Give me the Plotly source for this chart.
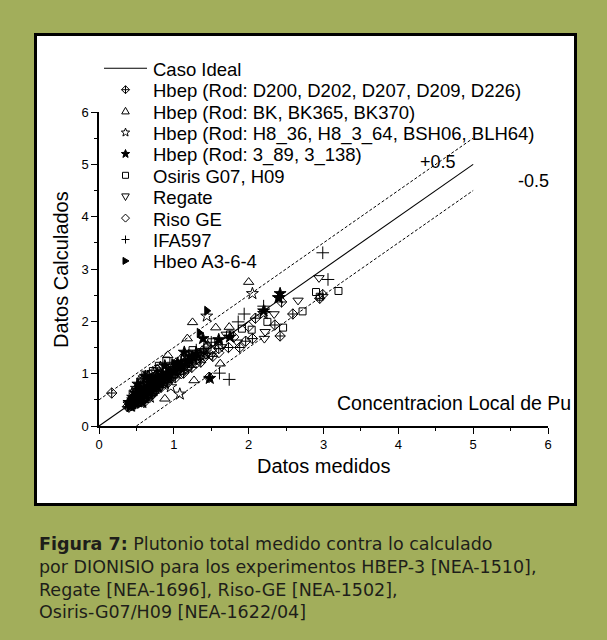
import math
import plotly.graph_objects as go

# ---------------- data ----------------
ideal_x = [0, 5]
ideal_y = [0, 5]
upper_x = [0, 5]
upper_y = [0.5, 5.5]
lower_x = [0.5, 5]
lower_y = [0, 4.5]

d200_x = [0.17, 0.38, 0.40, 0.42, 0.43, 0.45, 0.47, 0.48, 0.50, 0.52, 0.55, 0.55, 0.57, 0.58, 0.60, 0.62, 0.63,
          0.65, 0.66, 0.68, 0.70, 0.70, 0.72, 0.74, 0.75, 0.77, 0.78, 0.83, 0.85, 0.86, 0.88, 0.92, 0.95, 0.97,
          1.02, 1.05, 1.08, 1.13, 1.15, 1.18, 1.24, 1.30, 1.36, 1.43, 1.47, 1.52, 1.60, 1.73, 1.88, 1.96, 2.05,
          2.09, 2.35, 2.42, 2.44, 2.59, 2.95, 2.99]
d200_y = [0.63, 0.37, 0.36, 0.44, 0.39, 0.40, 0.43, 0.52, 0.46, 0.47, 0.56, 0.75, 0.60, 0.50, 0.45, 0.64, 0.55,
          0.85, 0.58, 0.68, 0.72, 0.58, 0.62, 0.66, 0.95, 0.75, 0.80, 0.74, 1.05, 0.82, 0.90, 0.83, 0.92, 0.98,
          0.92, 1.05, 1.10, 1.01, 1.15, 1.20, 1.12, 1.27, 1.22, 1.38, 0.93, 1.33, 1.48, 1.50, 1.50, 1.62, 1.67,
          2.06, 1.93, 1.72, 2.37, 2.14, 2.44, 2.51]

bk_x = [0.44, 0.47, 0.48, 0.50, 0.52, 0.55, 0.58, 0.58, 0.60, 0.62, 0.63, 0.65, 0.68, 0.68, 0.70, 0.72, 0.75, 0.78,
        0.78, 0.80, 0.83, 0.85, 0.88, 0.92, 0.95, 0.98, 1.03, 1.05, 1.10, 1.15, 1.18, 1.25, 1.27, 1.38, 1.45, 1.56,
        1.62, 1.74, 2.00]
bk_y = [0.55, 0.48, 0.70, 0.62, 0.50, 0.72, 0.65, 0.88, 0.80, 0.50, 0.70, 0.60, 0.82, 1.00, 0.90, 0.78, 0.97, 0.88,
        1.10, 1.05, 0.95, 0.82, 0.52, 1.35, 1.05, 1.12, 1.22, 1.10, 1.30, 1.25, 1.67, 1.98, 0.87, 1.45, 1.55, 1.88,
        1.19, 1.89, 2.75]

h8_x = [0.40, 0.43, 0.45, 0.47, 0.50, 0.50, 0.52, 0.53, 0.55, 0.58, 0.60, 0.60, 0.62, 0.65, 0.67, 0.68, 0.70, 0.72,
        0.73, 0.75, 0.78, 0.80, 0.82, 0.85, 0.88, 0.90, 0.93, 0.96, 1.00, 1.05, 1.08, 1.10, 1.15, 1.20, 1.25, 1.30,
        1.35, 1.44, 2.05, 2.20, 2.40]
h8_y = [0.42, 0.38, 0.50, 0.44, 0.55, 0.72, 0.46, 0.58, 0.65, 0.52, 0.70, 0.92, 0.60, 0.62, 0.72, 0.55, 0.75, 1.02,
        0.68, 0.80, 0.90, 0.85, 1.12, 0.90, 0.82, 1.00, 0.95, 0.75, 1.10, 1.05, 0.61, 1.20, 1.12, 1.30, 1.28, 1.40,
        1.35, 2.10, 2.53, 2.15, 2.45]

s389_x = [0.40, 0.42, 0.44, 0.45, 0.48, 0.50, 0.52, 0.53, 0.55, 0.57, 0.58, 0.60, 0.62, 0.63, 0.68, 0.70, 0.72,
          0.75, 0.78, 0.80, 0.85, 0.88, 0.90, 0.95, 1.00, 1.05, 1.10, 1.14, 1.20, 1.25, 1.30, 1.39, 1.48, 1.60,
          1.75, 2.20, 2.40, 2.42]
s389_y = [0.45, 0.38, 0.42, 0.55, 0.50, 0.62, 0.80, 0.49, 0.58, 0.66, 0.45, 0.72, 0.95, 0.62, 0.70, 0.90, 0.80,
          0.85, 0.76, 0.90, 0.92, 1.15, 0.95, 1.00, 1.05, 1.20, 1.15, 1.41, 1.25, 1.32, 1.38, 1.67, 0.91, 1.65,
          1.70, 2.20, 2.45, 2.53]

osiris_x = [0.42, 0.45, 0.45, 0.48, 0.50, 0.52, 0.55, 0.55, 0.57, 0.60, 0.62, 0.65, 0.70, 0.72, 0.75, 0.80, 0.80,
            0.85, 0.90, 0.90, 0.95, 1.00, 1.05, 1.10, 1.15, 1.20, 1.25, 1.30, 1.35, 1.40, 1.45, 1.50, 1.60, 1.75,
            1.91, 2.04, 2.25, 2.46, 2.72, 2.90, 2.95, 3.20]
osiris_y = [0.40, 0.48, 0.62, 0.41, 0.65, 0.55, 0.75, 0.85, 0.62, 0.55, 0.98, 0.70, 0.85, 1.05, 0.80, 0.75, 1.15,
            0.88, 0.95, 1.25, 1.15, 1.00, 1.12, 1.05, 1.20, 1.35, 1.45, 1.25, 1.40, 1.35, 1.50, 1.60, 1.55, 1.75,
            1.86, 1.84, 1.99, 1.88, 2.19, 2.56, 2.47, 2.58]

regate_x = [0.42, 0.45, 0.48, 0.50, 0.50, 0.53, 0.55, 0.58, 0.60, 0.65, 0.68, 0.70, 0.75, 0.80, 0.82, 0.85, 0.90,
            0.95, 1.00, 1.05, 1.10, 1.15, 1.20, 1.28, 1.35, 1.50, 1.64, 1.70, 1.85, 2.21, 2.22, 2.34, 2.66, 2.94]
regate_y = [0.38, 0.40, 0.47, 0.52, 0.68, 0.55, 0.45, 0.78, 0.58, 0.68, 0.92, 0.75, 0.72, 0.70, 1.00, 0.85, 0.88,
            0.98, 0.95, 1.02, 1.15, 1.22, 1.10, 1.32, 1.30, 1.35, 1.51, 1.75, 1.60, 1.67, 1.80, 2.14, 2.40, 2.83]

riso_x = [0.42, 0.45, 0.48, 0.50, 0.55, 0.58, 0.60, 0.65, 0.68, 0.70, 0.75, 0.78, 0.80, 0.85, 0.90, 0.95, 1.00,
          1.05, 1.10, 1.15, 1.20, 1.25, 1.30, 1.40, 1.50, 1.60, 1.80, 2.00]
riso_y = [0.42, 0.46, 0.62, 0.55, 0.52, 0.72, 0.60, 0.70, 0.85, 0.65, 0.78, 0.98, 0.85, 0.90, 0.80, 1.02, 0.95,
          1.08, 1.00, 1.10, 1.15, 1.30, 1.20, 1.30, 1.45, 1.40, 1.70, 1.90]

ifa_x = [0.50, 0.55, 0.60, 0.65, 0.70, 0.80, 0.90, 1.00, 1.10, 1.20, 1.30, 1.40, 1.50, 1.61, 1.74, 1.86, 1.94,
         2.20, 2.22, 2.99, 3.06]
ifa_y = [0.55, 0.80, 0.65, 0.95, 0.80, 0.92, 1.00, 1.12, 1.25, 1.35, 1.45, 1.48, 1.60, 1.01, 0.89, 1.99, 2.14,
         2.29, 2.18, 3.31, 2.80]

hbeo_x = [0.80, 1.00, 1.34, 1.44]
hbeo_y = [0.95, 1.20, 1.78, 2.20]

legend_labels = [
    "Caso Ideal",
    "Hbep (Rod: D200, D202, D207, D209, D226)",
    "Hbep (Rod: BK, BK365, BK370)",
    "Hbep (Rod: H8_36, H8_3_64, BSH06, BLH64)",
    "Hbep (Rod: 3_89, 3_138)",
    "Osiris G07, H09",
    "Regate",
    "Riso GE",
    "IFA597",
    "Hbeo A3-6-4",
]

x_ticks = [0, 1, 2, 3, 4, 5, 6]
y_ticks = [0, 1, 2, 3, 4, 5, 6]

caption_lines = [
    "<b>Figura 7:</b> Plutonio total medido contra lo calculado",
    "por DIONISIO para los experimentos HBEP-3 [NEA-1510],",
    "Regate [NEA-1696], Riso-GE [NEA-1502],",
    "Osiris-G07/H09 [NEA-1622/04]",
]

# ---------------- layout constants ----------------
W, H = 607, 640
ML, MR, MT, MB = 99, 59, 112, 214
PW, PH = W - ML - MR, H - MT - MB
GREEN = "#A2AE5B"
FONT = "Liberation Sans, Arial, sans-serif"


def px2paper_x(px):
    return (px - ML) / PW


def px2paper_y(py):
    return (H - MB - py) / PH


# ---------------- legend glyph paths (pixel units, y up) ----------------
def poly(pts):
    return "M" + " L".join(f"{x:.2f},{y:.2f}" for x, y in pts) + " Z"


def star_pts(ro, ri):
    pts = []
    for k in range(10):
        a = math.radians(90 + 36 * k)
        r = ro if k % 2 == 0 else ri
        pts.append((r * math.cos(a), r * math.sin(a)))
    return pts


glyphs = {
    "diamond-cross-open": (poly([(0, 4), (4, 0), (0, -4), (-4, 0)]) + " M0,4 L0,-4 M-4,0 L4,0", False),
    "triangle-up-open": (poly([(0, 3.8), (3.8, -2.8), (-3.8, -2.8)]), False),
    "star-open": (poly(star_pts(4.4, 1.9)), False),
    "star": (poly(star_pts(4.4, 1.9)), True),
    "square-open": (poly([(-3, -3), (3, -3), (3, 3), (-3, 3)]), False),
    "triangle-down-open": (poly([(0, -3.8), (3.8, 2.8), (-3.8, 2.8)]), False),
    "diamond-open": (poly([(0, 4), (4, 0), (0, -4), (-4, 0)]), False),
    "cross-thin-open": ("M0,4 L0,-4 M-4,0 L4,0", False),
    "triangle-right": (poly([(-2.5, 3.5), (3.5, 0), (-2.5, -3.5)]), True),
}

series = [
    (d200_x, d200_y, "diamond-cross-open", 8),
    (bk_x, bk_y, "triangle-up-open", 9),
    (h8_x, h8_y, "star-open", 9),
    (s389_x, s389_y, "star", 9),
    (osiris_x, osiris_y, "square-open", 7),
    (regate_x, regate_y, "triangle-down-open", 9),
    (riso_x, riso_y, "diamond-open", 8),
    (ifa_x, ifa_y, "cross-thin-open", 9),
    (hbeo_x, hbeo_y, "triangle-right", 8),
]

fig = go.Figure()

# reference lines
fig.add_trace(go.Scatter(x=ideal_x, y=ideal_y, mode="lines",
                         line=dict(color="black", width=1.1), showlegend=False, hoverinfo="skip"))
fig.add_trace(go.Scatter(x=upper_x, y=upper_y, mode="lines",
                         line=dict(color="black", width=1, dash="3px,2px"), showlegend=False, hoverinfo="skip"))
fig.add_trace(go.Scatter(x=lower_x, y=lower_y, mode="lines",
                         line=dict(color="black", width=1, dash="3px,2px"), showlegend=False, hoverinfo="skip"))

for sx, sy, sym, sz in series:
    fig.add_trace(go.Scatter(
        x=sx, y=sy, mode="markers", showlegend=False,
        marker=dict(symbol=sym, size=sz, color="black",
                    line=dict(color="black", width=1)),
    ))

annotations = []
shapes = []

# panel
shapes.append(dict(type="rect", xref="paper", yref="paper", layer="below",
                   x0=px2paper_x(35.5), x1=px2paper_x(575.5),
                   y0=px2paper_y(504.5), y1=px2paper_y(34.5),
                   fillcolor="white", line=dict(color="black", width=3)))

# ---------------- manual legend ----------------
row0, step = 68.3, 21.4
mark_px, text_px = 125.5, 151
for i, lab in enumerate(legend_labels):
    py = row0 + step * i
    annotations.append(dict(
        x=px2paper_x(text_px), y=px2paper_y(py + 1), xref="paper", yref="paper",
        xanchor="left", yanchor="middle", text=lab, showarrow=False,
        font=dict(family=FONT, size=18.5, color="black")))
    if i == 0:
        shapes.append(dict(type="line", xref="paper", yref="paper",
                           x0=px2paper_x(104), x1=px2paper_x(147),
                           y0=px2paper_y(py), y1=px2paper_y(py),
                           line=dict(color="black", width=1.1)))
    else:
        path, filled = glyphs[series[i - 1][2]]
        shapes.append(dict(type="path", xref="paper", yref="paper",
                           xsizemode="pixel", ysizemode="pixel",
                           xanchor=px2paper_x(mark_px), yanchor=px2paper_y(py),
                           path=path, fillcolor="black" if filled else "rgba(0,0,0,0)",
                           line=dict(color="black", width=1)))

# text annotations in the plot
annotations += [
    dict(x=4.53, y=5.05, xref="x", yref="y", xanchor="center", yanchor="middle",
         text="+0.5", showarrow=False, font=dict(family=FONT, size=18, color="black")),
    dict(x=5.81, y=4.68, xref="x", yref="y", xanchor="center", yanchor="middle",
         text="-0.5", showarrow=False, font=dict(family=FONT, size=18, color="black")),
    dict(x=px2paper_x(573), y=px2paper_y(403), xref="paper", yref="paper",
         xanchor="right", yanchor="middle", text="Concentracion Local de Pu", showarrow=False,
         font=dict(family=FONT, size=19.5, color="black")),
    dict(x=px2paper_x(323), y=px2paper_y(466), xref="paper", yref="paper",
         xanchor="center", yanchor="middle",
         text="Datos medidos", showarrow=False,
         font=dict(family=FONT, size=20, color="black")),
    dict(x=px2paper_x(61), y=px2paper_y(270), xref="paper", yref="paper", textangle=-90,
         xanchor="center", yanchor="middle",
         text="Datos Calculados", showarrow=False,
         font=dict(family=FONT, size=20, color="black")),
]

# caption (one block, left aligned)
annotations.append(dict(
    x=px2paper_x(37), y=px2paper_y(532), xref="paper", yref="paper",
    xanchor="left", yanchor="top", align="left", text="<br>".join(caption_lines), showarrow=False,
    font=dict(family="DejaVu Sans, sans-serif", size=17.5, color="#1e1e1a")))

axis_common = dict(
    range=[0, 6], showgrid=False, zeroline=False, showline=True, linecolor="black",
    linewidth=1.5, ticks="outside", ticklen=6, tickwidth=1.2, tickcolor="black",
    tickfont=dict(family=FONT, size=13, color="black"),
    minor=dict(dtick=0.5, ticks="outside", ticklen=3, tickwidth=1, tickcolor="black"),
    fixedrange=True,
)

fig.update_layout(
    width=W, height=H,
    margin=dict(l=ML, r=MR, t=MT, b=MB),
    paper_bgcolor=GREEN,
    plot_bgcolor="rgba(0,0,0,0)",
    xaxis=dict(tickvals=x_ticks, ticktext=[str(v) for v in x_ticks], **axis_common),
    yaxis=dict(tickvals=y_ticks, ticktext=[str(v) for v in y_ticks], **axis_common),
    shapes=shapes,
    annotations=annotations,
    showlegend=False,
)

fig.write_html("out.html", config={"displayModeBar": False},
               post_script="document.body.style.margin='0px';")
